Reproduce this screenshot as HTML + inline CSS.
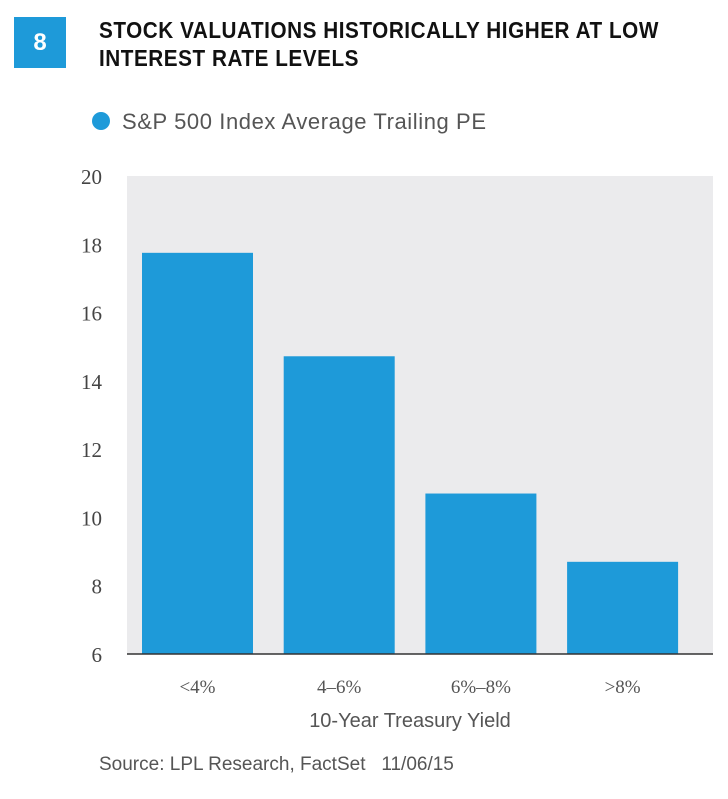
<!DOCTYPE html>
<html><head><meta charset="utf-8"><style>
body{margin:0;width:728px;height:799px;background:#fff;position:relative;overflow:hidden;font-family:"Liberation Sans",sans-serif}
#badge{position:absolute;left:14px;top:17px;width:52px;height:51px;background:#1e9ad9;color:#fff;font-weight:bold;font-size:24px;text-align:center;line-height:51px}
#title{position:absolute;left:99px;top:16px;font-weight:bold;font-size:23px;line-height:28px;color:#111;transform:scaleX(0.9);transform-origin:left top;white-space:nowrap;letter-spacing:0.6px}
</style></head><body>
<div id="badge">8</div>
<div id="title">STOCK VALUATIONS HISTORICALLY HIGHER AT LOW<br>INTEREST RATE LEVELS</div>
<svg id="chart" width="728" height="799" style="position:absolute;left:0;top:0"></svg>
<script>
const categories=["<4%","4–6%","6%–8%",">8%"];
const peValues=[17.75,14.72,10.7,8.7];
const yTicks=[6,8,10,12,14,16,18,20];
const NS="http://www.w3.org/2000/svg";
const svg=document.getElementById('chart');
const plotL=127,plotR=713,plotT=176,plotB=654,yMin=6,yMax=20;
const y=v=>plotB-(v-yMin)/(yMax-yMin)*(plotB-plotT);
const step=141.7;
const x=i=>142+step*i;
const bw=111;
function mk(t,a){const e=document.createElementNS(NS,t);for(const k in a)e.setAttribute(k,a[k]);svg.appendChild(e);return e;}
const bg=mk('rect',{x:plotL,y:plotT,width:plotR-plotL,height:plotB-plotT,fill:'#ebebed'});


const ld=mk('circle',{cx:101,cy:121,r:9,fill:'#1e9ad9'});


const lt=mk('text',{x:122,y:129,'font-size':22,fill:'#555','font-family':'Liberation Sans, sans-serif',textLength:364});
lt.textContent='S&P 500 Index Average Trailing PE';


yTicks.forEach(v=>{const t=mk('text',{x:102,y:y(v)+8,'font-size':21,fill:'#444','text-anchor':'end','font-family':'Liberation Serif, serif'});t.textContent=v;

});
peValues.forEach((v,i)=>{const r=mk('rect',{x:x(i),y:y(v),width:bw,height:plotB-y(v),fill:'#1e9ad9'});


const t=mk('text',{x:x(i)+bw/2,y:693,'font-size':19,fill:'#555','text-anchor':'middle','font-family':'Liberation Serif, serif'});t.textContent=categories[i];

});
const ax=mk('line',{x1:plotL,x2:plotR,y1:plotB,y2:plotB,stroke:'#333','stroke-width':1.5});


const xt=mk('text',{x:410,y:727,'font-size':20,fill:'#555','text-anchor':'middle','font-family':'Liberation Sans, sans-serif'});xt.textContent='10-Year Treasury Yield';


const src=mk('text',{x:99,y:770,'font-size':19,fill:'#555','font-family':'Liberation Sans, sans-serif',style:'white-space:pre'});src.textContent='Source: LPL Research, FactSet   11/06/15';


</script>
</body></html>
